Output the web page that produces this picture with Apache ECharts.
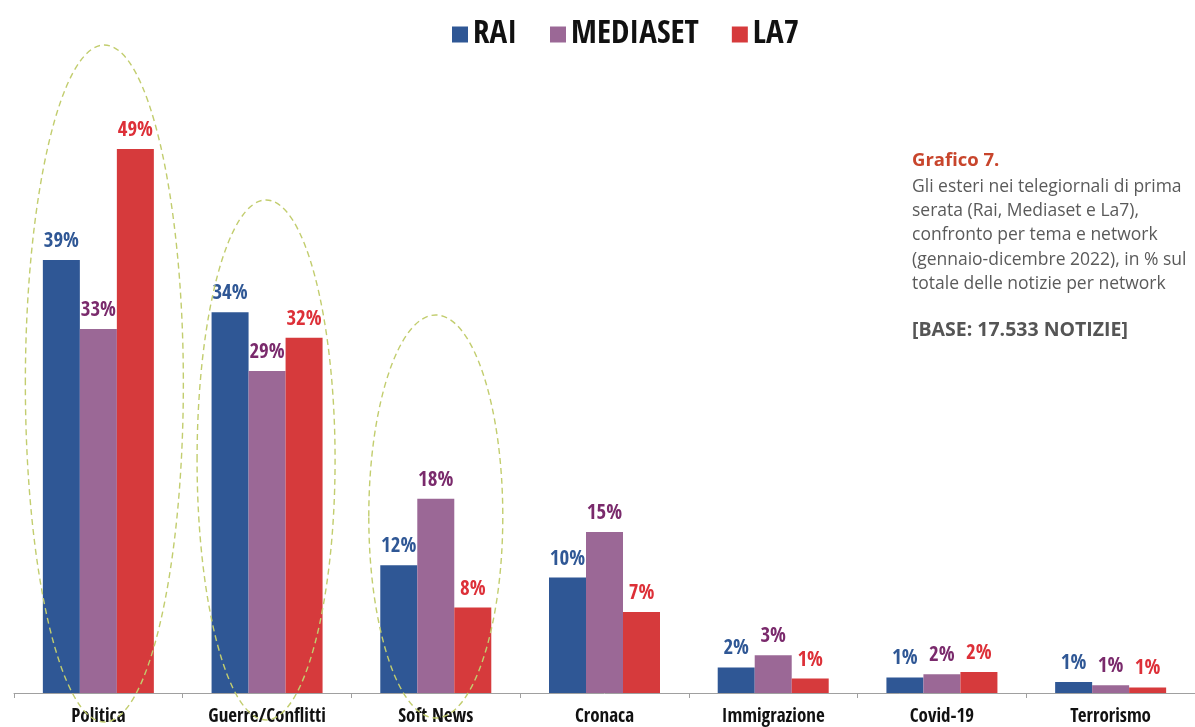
<!DOCTYPE html>
<html>
<head>
<meta charset="utf-8">
<script src="https://cdn.jsdelivr.net/npm/echarts@6/dist/echarts.min.js"></script>
<style>
html,body{margin:0;padding:0;background:#fff;}
#c{width:1195px;height:727px;}
</style>
</head>
<body>
<div id="c"></div>
<script>
const categories = ['Politica','Guerre/Conflitti','Soft News','Cronaca','Immigrazione','Covid-19','Terrorismo'];
const seriesNames = ['RAI','MEDIASET','LA7'];
const raiValues = [39, 34.3, 11.5, 10.4, 2.3, 1.4, 1.0];
const mediasetValues = [32.8, 29, 17.5, 14.5, 3.4, 1.7, 0.7];
const la7Values = [49, 32, 7.7, 7.3, 1.3, 1.9, 0.5];
const raiLabels = [39, 34, 12, 10, 2, 1, 1];
const mediasetLabels = [33, 29, 18, 15, 3, 2, 1];
const la7Labels = [49, 32, 8, 7, 1, 2, 1];

const condensed = '"Open Sans Condensed", "Roboto Condensed", sans-serif';
const sideFont = '"Open Sans", "Noto Sans", sans-serif';
const chart = echarts.init(document.getElementById('c'), null, {renderer:'canvas'});

function mkSeries(name, values, labels, color, labelColor){
  return {
    name: name,
    type: 'bar',
    data: values,
    barWidth: 37,
    barGap: '0%',
    itemStyle: {color: color},
    label: {
      show: true,
      position: 'top',
      distance: 8,
      formatter: p => labels[p.dataIndex] + '%',
      color: labelColor,
      fontFamily: condensed,
      fontWeight: 'bold',
      fontSize: 21
    },
    emphasis: {disabled: true}
  };
}

chart.setOption({
  animation: false,
  backgroundColor: '#ffffff',
  legend: {
    left: 447,
    top: 13,
    itemWidth: 16,
    itemHeight: 16,
    itemGap: 33,
    icon: 'rect',
    data: seriesNames,
    textStyle: {
      fontFamily: condensed,
      fontWeight: 'bold',
      fontSize: 33,
      color: '#111'
    }
  },
  grid: {left: 14, top: 138, width: 1183, bottom: 34, containLabel: false},
  xAxis: {
    type: 'category',
    data: categories,
    axisLine: {lineStyle: {color: '#a0a0a0', width: 1}},
    axisTick: {show: true, length: 5, lineStyle: {color: '#a0a0a0'}},
    axisLabel: {
      interval: 0,
      color: '#111',
      fontFamily: condensed,
      fontWeight: 'bold',
      fontSize: 19,
      margin: 15
    }
  },
  yAxis: {
    type: 'value',
    min: 0,
    max: 50,
    show: false,
    splitLine: {show: false}
  },
  series: [
    mkSeries('RAI', raiValues, raiLabels, '#2F5795', '#2F5795'),
    mkSeries('MEDIASET', mediasetValues, mediasetLabels, '#9B6896', '#7A2A6C'),
    mkSeries('LA7', la7Values, la7Labels, '#D63A3C', '#DD3038')
  ]
});

// Annotation ellipses and side text
const ellipses = [
  {cat: 0, dx: 6, rx: 79, top: 45, bottom: 722},
  {cat: 1, dx: -1, rx: 69, top: 200, bottom: 720},
  {cat: 2, dx: 0, rx: 67, top: 315, bottom: 718}
];
const graphics = ellipses.map(e => {
  const cx = chart.convertToPixel({xAxisIndex: 0}, categories[e.cat]) + e.dx;
  return {
    type: 'ellipse',
    shape: {cx: cx, cy: (e.top + e.bottom) / 2, rx: e.rx, ry: (e.bottom - e.top) / 2},
    style: {fill: 'none', stroke: '#C2CD6E', lineWidth: 1.4, lineDash: [6, 4]},
    silent: true,
    z: 10
  };
});
graphics.push({
  type: 'text', x: 912, y: 161,
  style: {text: 'Grafico 7.', fill: '#C8452C', fontFamily: sideFont, fontWeight: 'bold', fontSize: 18.5, verticalAlign: 'middle'}
});
const sideLines = [
  'Gli esteri nei telegiornali di prima',
  'serata (Rai, Mediaset e La7),',
  'confronto per tema e network',
  '(gennaio-dicembre 2022), in % sul',
  'totale delle notizie per network'
];
sideLines.forEach((t, i) => {
  graphics.push({
    type: 'text', x: 912, y: 187 + i * 24.2,
    style: {text: t, fill: '#5a5a5a', fontFamily: sideFont, fontSize: 17.5, verticalAlign: 'middle'}
  });
});
graphics.push({
  type: 'text', x: 912, y: 330,
  style: {text: '[BASE: 17.533 NOTIZIE]', fill: '#555', fontFamily: sideFont, fontWeight: 'bold', fontSize: 19.5, verticalAlign: 'middle'}
});
chart.setOption({graphic: graphics});
</script>
</body>
</html>
